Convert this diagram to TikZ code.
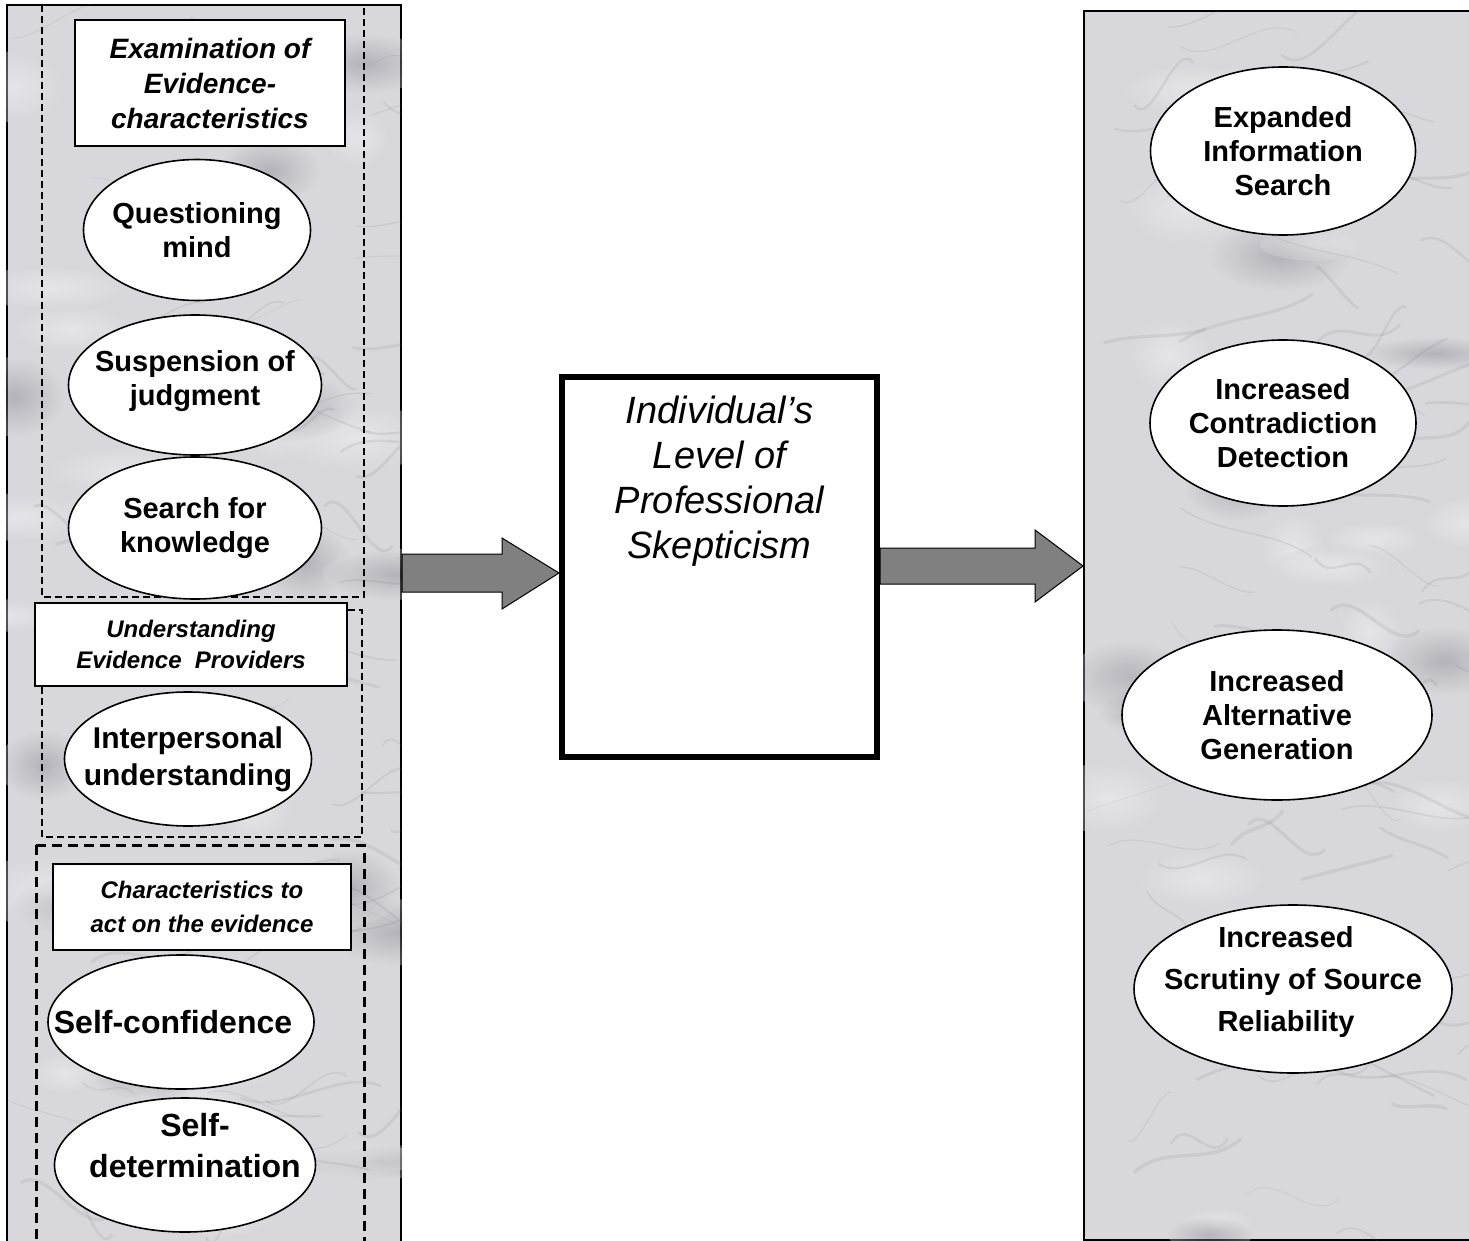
\documentclass[tikz,border=0pt]{standalone}
\usepackage{fontspec}
\setmainfont{Liberation Sans}
\usepackage{tikz}
\usetikzlibrary{shapes.geometric, positioning}
\definecolor{marble}{RGB}{216, 216, 220}
\definecolor{marblevein}{RGB}{110, 110, 120}
\definecolor{arrowgray}{RGB}{128, 128, 128}

\tikzset{
  wh/.style 2 args={minimum width=#1, minimum height=#2},
  panel/.style={rectangle, draw, line width=2pt, fill=marble, inner sep=0pt},
  trait/.style={ellipse, draw, line width=1.6pt, fill=white, inner xsep=-40pt, inner ysep=-20pt,
    align=center, font=\fontsize{29}{34}\selectfont\bfseries},
  heading/.style={rectangle, draw, line width=2pt, fill=white, inner sep=0pt, align=center,
    font=\fontsize{25}{33}\selectfont\bfseries\itshape},
  groupframe/.style={line width=1.5pt, dash pattern=on 7pt off 4pt},
  groupframebold/.style={line width=3pt, dash pattern=on 10pt off 6pt},
  corebox/.style={rectangle, draw, line width=6pt, fill=white, inner sep=0pt},
  coretitle/.style={align=center, inner sep=0pt, font=\fontsize{38}{45}\selectfont\itshape},
  fatarrow/.style={draw, line width=1pt, fill=arrowgray, line join=miter},
}

\begin{document}
\begin{tikzpicture}[x=1pt, y=-1pt]
\useasboundingbox (0,0) rectangle (1469,1241);

% marble panels
\node[panel, wh={394pt}{1242pt}] (lpanel) at (204,626) {};
\node[panel, wh={390pt}{1229pt}] (rpanel) at (1279,625.5) {};

\begin{scope}
  \pgfmathsetseed{23}
  \clip (lpanel.north west) rectangle (lpanel.south east)
        (rpanel.north west) rectangle (rpanel.south east);
  \foreach \k in {1,...,60}{
    \pgfmathsetmacro{\bx}{rnd<0.5 ? 7+rnd*394 : 1084+rnd*385}
    \pgfmathsetmacro{\by}{rnd*1241}
    \pgfmathsetmacro{\ra}{30+rnd*50}
    \pgfmathsetmacro{\rb}{15+rnd*25}
    \pgfmathsetmacro{\tone}{rnd<0.5 ? 100 : 0}
    \shade[inner color=white!\tone!marblevein, outer color=marble, opacity=0.35]
      (\bx,\by) ellipse ({\ra} and {\rb});
  }
  \foreach \k in {1,...,160}{
    \pgfmathsetmacro{\vx}{rnd<0.5 ? 7+rnd*394 : 1084+rnd*385}
    \pgfmathsetmacro{\vy}{rnd*1241}
    \pgfmathsetmacro{\dx}{40+rnd*110}
    \pgfmathsetmacro{\dy}{-50+rnd*100}
    \pgfmathsetmacro{\cy}{-30+rnd*60}
    \pgfmathsetmacro{\lw}{0.5+rnd*3}
    \draw[marblevein, opacity=0.13, line width=\lw pt, line cap=round]
      (\vx,\vy) .. controls (\vx+\dx*0.3,\vy+\cy) and (\vx+\dx*0.7,\vy+\dy-\cy) .. (\vx+\dx,\vy+\dy);
  }
\end{scope}

% groups on the left
\draw[groupframe] (42,5) rectangle (364,597);
\draw[groupframe] (42,610) rectangle (362,837);
\draw[groupframebold] (36,845) rectangle (364,1250);

\node[heading, wh={270pt}{126pt}, font=\fontsize{28}{35}\selectfont\bfseries\itshape] (hexam) at (210,83)
  {Examination of\\Evidence-\\characteristics};
\node[trait, wh={227pt}{141pt}] (qmind) at (197,230) {Questioning\\mind};
\node[trait, wh={253pt}{140pt}, text depth=14pt] (suspend) at (195,385) {Suspension of\\judgment};
\node[trait, wh={253pt}{142pt}] (search) at (195,528) {Search for\\knowledge};

\node[heading, wh={312pt}{83pt}, font=\fontsize{24}{31}\selectfont\bfseries\itshape] (hprov) at (191,644.5)
  {Understanding\\Evidence\ \ Providers};
\node[trait, wh={247pt}{134pt}, font=\fontsize{30}{37}\selectfont\bfseries] (interp) at (188,759)
  {Interpersonal\\understanding};

\node[heading, wh={298pt}{86pt}, font=\fontsize{24}{34}\selectfont\bfseries\itshape] (hact) at (202,907)
  {Characteristics to\\act on the evidence};
\node[trait, wh={266pt}{134pt}, font=\fontsize{32}{41}\selectfont\bfseries] (selfconf) at (181,1022)
  {Self-confidence\hspace*{16pt}};
\node[trait, wh={261pt}{134pt}, font=\fontsize{32}{41}\selectfont\bfseries, text depth=40pt] (selfdet) at (185,1165)
  {\hspace*{20pt}Self-\\\hspace*{20pt}determination};

% centre
\node[corebox, wh={315pt}{380pt}] (core) at (719.5,567) {};
\node[coretitle, below=22pt of core.north] (corename)
  {Individual’s\\Level of\\Professional\\Skepticism};

% outcomes on the right
\node[trait, wh={265pt}{168pt}] (expand) at (1283,151) {Expanded\\Information\\Search};
\node[trait, wh={266pt}{166pt}] (contra) at (1283,423) {Increased\\Contradiction\\Detection};
\node[trait, wh={310pt}{170pt}] (altgen) at (1277,715) {Increased\\Alternative\\Generation};
\node[trait, wh={318pt}{168pt}, font=\fontsize{29}{42}\selectfont\bfseries, text depth=20pt] (scrutiny) at (1293,989)
  {Increased\hspace*{14pt}\\Scrutiny of Source\hspace*{14pt}\\Reliability\hspace*{14pt}};

% block arrows
\draw[fatarrow] (lpanel.east |- 0,554) -- (502,554) -- (502,538) -- (core.west |- 0,573)
  -- (502,609) -- (502,592) -- (lpanel.east |- 0,592) -- cycle;
\draw[fatarrow] (core.east |- 0,548) -- (1035,548) -- (1035,530) -- (rpanel.west |- 0,566)
  -- (1035,602) -- (1035,584) -- (core.east |- 0,584) -- cycle;
\end{tikzpicture}
\end{document}
